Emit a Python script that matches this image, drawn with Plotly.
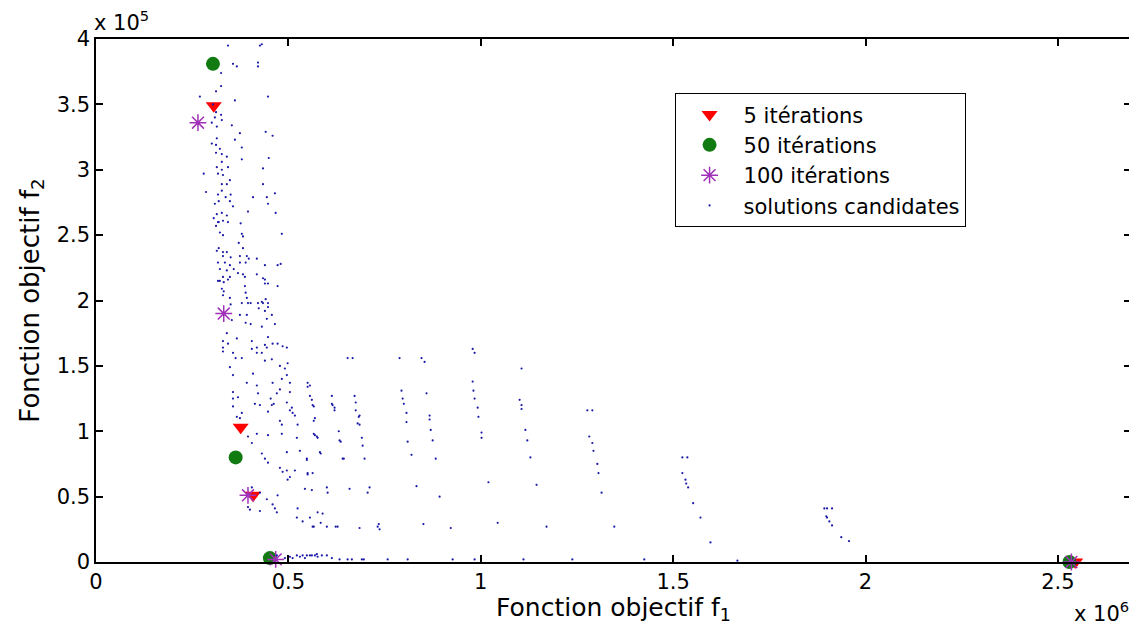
import plotly.graph_objects as go

# f1 in units of 1e6, f2 in units of 1e5 (as shown on the axes)
it5_f1 = [0.306, 0.376, 0.408, 2.545]
it5_f2 = [3.49, 1.03, 0.51, 0.0]

it50_f1 = [0.304, 0.363, 0.452, 2.530]
it50_f2 = [3.81, 0.80, 0.03, 0.0]

it100_f1 = [0.265, 0.332, 0.395, 0.467, 2.535]
it100_f2 = [3.36, 1.90, 0.51, 0.02, 0.0]

# candidate solutions, upper dense band
band_f1 = [0.343, 0.426, 0.356, 0.366, 0.421, 0.421, 0.325, 0.325, 0.312, 0.270,
           0.361, 0.447, 0.304, 0.312, 0.325, 0.309, 0.327, 0.301, 0.314, 0.353,
           0.374, 0.441, 0.459, 0.314, 0.361, 0.301, 0.312, 0.379, 0.322, 0.312,
           0.327, 0.340, 0.327, 0.379, 0.449, 0.314, 0.343, 0.327, 0.280, 0.317,
           0.330, 0.434, 0.327, 0.340, 0.348, 0.434, 0.286, 0.327, 0.317, 0.337,
           0.350, 0.408, 0.444, 0.465, 0.319, 0.309, 0.348, 0.356, 0.447, 0.395,
           0.467, 0.314, 0.327, 0.340, 0.306, 0.319, 0.330, 0.343, 0.376, 0.312,
           0.431, 0.483, 0.439, 0.472, 0.480, 0.434, 0.439, 0.472, 0.447, 0.431,
           0.441, 0.447, 0.447, 0.439, 0.457, 0.444, 0.465, 0.431, 0.447, 0.439,
           0.459, 0.472, 0.444]
band_f2 = [3.95, 3.95, 3.81, 3.79, 3.82, 3.79, 3.74, 3.64, 3.60, 3.56,
           3.53, 3.56, 3.50, 3.44, 3.42, 3.40, 3.38, 3.36, 3.33, 3.34,
           3.28, 3.29, 3.26, 3.24, 3.23, 3.20, 3.19, 3.17, 3.16, 3.13,
           3.12, 3.10, 3.06, 3.08, 3.09, 3.02, 3.02, 3.00, 2.97, 2.97,
           2.96, 3.01, 2.89, 2.89, 2.92, 2.89, 2.83, 2.84, 2.81, 2.79,
           2.81, 2.79, 2.79, 2.82, 2.76, 2.74, 2.76, 2.72, 2.74, 2.68,
           2.67, 2.66, 2.67, 2.65, 2.63, 2.60, 2.61, 2.60, 2.59, 2.57,
           3.96, 2.51, 2.27, 2.27, 2.28, 2.17, 2.13, 2.11, 2.13, 1.99,
           2.01, 1.98, 1.95, 1.92, 1.89, 1.86, 1.82, 1.80, 1.72, 1.66,
           1.67, 1.67, 1.64]

# candidate solutions, lower part of the band
low_f1 = [0.317, 0.322, 0.379, 0.382, 0.330, 0.371, 0.319, 0.314, 0.330, 0.340,
          0.382, 0.330, 0.374, 0.392, 0.350, 0.397, 0.418, 0.317, 0.335, 0.374,
          0.389, 0.348, 0.322, 0.340, 0.358, 0.369, 0.382, 0.387, 0.418, 0.330,
          0.348, 0.317, 0.322, 0.332, 0.343, 0.439, 0.387, 0.327, 0.332, 0.389,
          0.392, 0.330, 0.348, 0.379, 0.395, 0.402, 0.421, 0.434, 0.350, 0.423,
          0.374, 0.392, 0.353, 0.389, 0.402, 0.340, 0.366, 0.330, 0.343, 0.405,
          0.418, 0.485, 0.496, 0.330, 0.330, 0.356, 0.405, 0.431, 0.363, 0.379,
          0.418, 0.439, 0.457, 0.348, 0.356, 0.408, 0.478, 0.498, 0.491, 0.392,
          0.418, 0.459, 0.483, 0.496, 0.504, 0.550, 0.556, 0.556, 0.356, 0.369,
          0.421, 0.470, 0.478, 0.504, 0.356, 0.413, 0.454, 0.462, 0.496, 0.356,
          0.447, 0.504, 0.511, 0.563, 0.379, 0.366]
low_f2 = [2.60, 2.52, 2.51, 2.49, 2.50, 2.44, 2.40, 2.38, 2.37, 2.37,
          2.40, 2.34, 2.34, 2.34, 2.33, 2.32, 2.32, 2.29, 2.29, 2.29,
          2.29, 2.27, 2.24, 2.23, 2.24, 2.21, 2.20, 2.18, 2.20, 2.18,
          2.18, 2.15, 2.15, 2.14, 2.16, 2.16, 2.11, 2.09, 2.07, 2.06,
          2.02, 2.04, 2.02, 1.98, 1.98, 1.98, 1.98, 1.98, 1.97, 1.94,
          1.89, 1.89, 1.85, 1.83, 1.82, 1.75, 1.71, 1.69, 1.67, 1.69,
          1.64, 1.65, 1.64, 1.64, 1.61, 1.60, 1.63, 1.60, 1.56, 1.56,
          1.60, 1.54, 1.55, 1.49, 1.43, 1.44, 1.50, 1.52, 1.48, 1.37,
          1.35, 1.37, 1.40, 1.43, 1.37, 1.37, 1.35, 1.27, 1.30, 1.26,
          1.29, 1.29, 1.32, 1.30, 1.25, 1.21, 1.25, 1.21, 1.22, 1.19,
          1.15, 1.16, 1.14, 1.20, 1.14, 1.11]

# candidate solutions, knee region (f2 below ~1.2e5)
knee_f1 = [0.374, 0.426, 0.457, 0.509, 0.478, 0.483, 0.517, 0.524, 0.569, 0.615,
           0.620, 0.675, 0.675, 0.685, 0.680, 0.418, 0.447, 0.395, 0.483, 0.522,
           0.569, 0.576, 0.633, 0.691, 0.693, 0.405, 0.431, 0.439, 0.447, 0.496,
           0.530, 0.582, 0.548, 0.641, 0.698, 0.478, 0.485, 0.496, 0.517, 0.504,
           0.550, 0.563, 0.498, 0.405, 0.426, 0.444, 0.543, 0.561, 0.600, 0.602,
           0.659, 0.711, 0.706, 0.472, 0.395, 0.400, 0.426, 0.459, 0.465, 0.470,
           0.524, 0.522, 0.556, 0.576, 0.589, 0.537, 0.563, 0.600, 0.628, 0.685,
           0.732]
knee_f2 = [1.10, 1.20, 1.20, 1.18, 1.08, 1.05, 1.12, 1.05, 1.10, 1.20,
           1.18, 1.22, 1.16, 1.12, 1.06, 0.98, 0.97, 0.96, 0.98, 0.95,
           0.97, 0.95, 0.93, 0.95, 0.89, 0.91, 0.83, 0.79, 0.76, 0.84,
           0.85, 0.84, 0.78, 0.79, 0.79, 0.72, 0.69, 0.70, 0.70, 0.65,
           0.68, 0.68, 0.63, 0.57, 0.53, 0.48, 0.56, 0.55, 0.57, 0.53,
           0.56, 0.57, 0.53, 0.51, 0.42, 0.40, 0.39, 0.44, 0.41, 0.38,
           0.41, 0.34, 0.34, 0.38, 0.37, 0.31, 0.27, 0.27, 0.27, 0.26,
           0.27]

# candidate solutions, vertical streaks to the right
streak_f1 = [0.654, 0.667, 0.789, 0.846, 0.854, 0.979, 0.984, 1.106, 0.550, 0.561,
             0.566, 0.566, 0.566, 0.574, 0.548, 0.550, 0.613, 0.613, 0.620, 0.631,
             0.636, 0.584, 0.644, 0.672, 0.683, 0.685, 0.794, 0.797, 0.800, 0.807,
             0.807, 0.810, 0.820, 0.859, 0.867, 0.867, 0.870, 0.875, 0.883, 0.979,
             0.981, 0.984, 0.992, 0.994, 1.002, 1.002, 1.020, 1.101, 1.106, 1.106,
             1.116, 1.121, 1.129, 1.145, 1.277, 1.290, 1.282, 1.290, 1.293, 1.303,
             1.306, 1.314, 0.833, 0.893, 0.584, 0.566, 0.623, 0.735, 0.737, 0.851,
             0.922, 1.044, 1.171, 1.347, 1.524, 1.537, 1.524, 1.532, 1.534, 1.539,
             1.552, 1.571, 1.597, 1.893, 1.900, 1.913, 1.898, 1.900, 1.906, 1.913,
             1.937, 1.957]
streak_f2 = [1.56, 1.56, 1.56, 1.56, 1.53, 1.63, 1.60, 1.48, 1.34, 1.24,
             1.19, 1.08, 0.98, 0.96, 0.79, 0.67, 1.27, 1.21, 1.16, 1.00,
             0.92, 0.83, 0.79, 1.27, 1.11, 1.05, 1.31, 1.25, 1.21, 1.14,
             1.07, 0.92, 0.82, 1.29, 1.12, 1.09, 1.01, 0.93, 0.79, 1.38,
             1.31, 1.25, 1.18, 1.11, 0.99, 0.95, 0.61, 1.24, 1.20, 1.17,
             1.01, 0.93, 0.80, 0.59, 1.16, 1.16, 0.96, 0.91, 0.85, 0.75,
             0.68, 0.53, 0.58, 0.50, 0.30, 0.27, 0.27, 0.29, 0.25, 0.29,
             0.26, 0.30, 0.27, 0.27, 0.80, 0.80, 0.68, 0.63, 0.60, 0.57,
             0.45, 0.34, 0.15, 0.41, 0.41, 0.41, 0.35, 0.34, 0.31, 0.28,
             0.19, 0.16]

# candidate solutions along the f1 axis
base_f1 = [0.470, 0.491, 0.504, 0.511, 0.522, 0.530, 0.537, 0.543, 0.548, 0.556,
           0.561, 0.569, 0.574, 0.576, 0.587, 0.600, 0.613, 0.633, 0.654, 0.665,
           0.691, 0.696, 0.758, 0.810, 0.927, 0.984, 1.111, 1.238, 1.425, 1.667]
base_f2 = [0.05, 0.03, 0.04, 0.03, 0.05, 0.04, 0.05, 0.03, 0.05, 0.05,
           0.05, 0.05, 0.06, 0.04, 0.05, 0.05, 0.03, 0.02, 0.02, 0.02,
           0.02, 0.02, 0.02, 0.02, 0.02, 0.02, 0.02, 0.02, 0.02, 0.01]

cand_f1 = band_f1 + low_f1 + knee_f1 + streak_f1 + base_f1
cand_f2 = band_f2 + low_f2 + knee_f2 + streak_f2 + base_f2

FONT = 'DejaVu Sans, Arial, sans-serif'

fig = go.Figure()

fig.add_trace(go.Scatter(
    x=it5_f1, y=it5_f2, mode='markers', name='5 itérations',
    marker=dict(symbol='triangle-down', size=14, color='#ff0000'),
    cliponaxis=False
))
fig.add_trace(go.Scatter(
    x=it50_f1, y=it50_f2, mode='markers', name='50 itérations',
    marker=dict(symbol='circle', size=14, color='#117a11'),
    cliponaxis=False
))
fig.add_trace(go.Scatter(
    x=it100_f1, y=it100_f2, mode='markers', name='100 itérations',
    marker=dict(symbol='asterisk-open', size=14, color='#a030b8',
                line=dict(width=1.5, color='#a030b8')),
    cliponaxis=False
))
fig.add_trace(go.Scatter(
    x=cand_f1, y=cand_f2, mode='markers', name='solutions candidates',
    marker=dict(symbol='circle', size=2.2, color='#1a1aa8'),
    cliponaxis=False
))

axis_style = dict(
    showgrid=False, zeroline=False,
    showline=True, linecolor='black', linewidth=1.5, mirror='ticks',
    ticks='inside', ticklen=7, tickwidth=1.5, tickcolor='black',
    tickfont=dict(family=FONT, size=21, color='black'),
)

fig.update_xaxes(
    range=[0, 2.69], tickvals=[0, 0.5, 1, 1.5, 2, 2.5],
    ticktext=['0', '0.5', '1', '1.5', '2', '2.5'],
    title=dict(text='Fonction objectif f<sub>1</sub>',
               font=dict(family=FONT, size=25, color='black'), standoff=4),
    **axis_style
)
fig.update_yaxes(
    range=[0, 4], tickvals=[0, 0.5, 1, 1.5, 2, 2.5, 3, 3.5, 4],
    ticktext=['0', '0.5', '1', '1.5', '2', '2.5', '3', '3.5', '4'],
    title=dict(text='Fonction objectif f<sub>2</sub>',
               font=dict(family=FONT, size=26, color='black'), standoff=10),
    **axis_style
)

fig.add_annotation(
    xref='paper', yref='paper', x=0, y=1, xanchor='left', yanchor='bottom',
    xshift=-4, yshift=2, showarrow=False,
    text='x 10<sup>5</sup>', font=dict(family=FONT, size=21, color='black')
)
fig.add_annotation(
    xref='paper', yref='paper', x=1, y=0, xanchor='right', yanchor='top',
    yshift=-34, showarrow=False,
    text='x 10<sup>6</sup>', font=dict(family=FONT, size=21, color='black')
)

# page body has an 8px margin, so the figure is sized and offset for it
fig.update_layout(
    width=1129, height=617,
    margin=dict(l=88, r=4, t=31, b=63),
    paper_bgcolor='white', plot_bgcolor='white',
    showlegend=True,
    legend=dict(
        x=0.559, y=0.896, xanchor='left', yanchor='top',
        bgcolor='white', bordercolor='black', borderwidth=1,
        font=dict(family=FONT, size=21, color='black'),
        itemsizing='trace', itemwidth=58, tracegroupgap=0
    )
)

fig.write_html('out.html')
